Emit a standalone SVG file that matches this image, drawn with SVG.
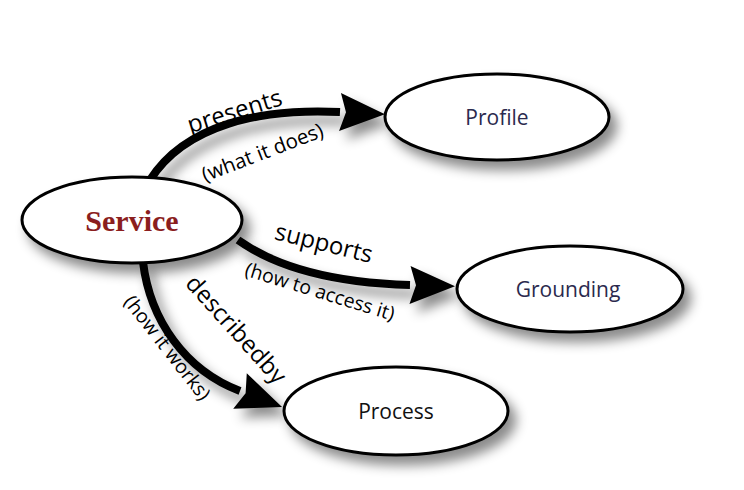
<svg xmlns="http://www.w3.org/2000/svg" width="744" height="490" viewBox="0 0 744 490">
<style>
.node ellipse{fill:#fff;stroke:#000;stroke-width:3}
.nt{font-family:"Open Sans","Liberation Sans",sans-serif;font-size:21px;text-anchor:middle;fill:#2b2a4e}
.svc{font-family:"Liberation Serif",serif;font-weight:bold;font-size:30px;text-anchor:middle;fill:#8b1e1e}
.edge{fill:none;stroke:#000;stroke-width:8;marker-end:url(#ah)}
.lbl{font-family:"Open Sans","Liberation Sans",sans-serif;font-size:24px;text-anchor:middle;fill:#000}
.sub{font-family:"Open Sans","Liberation Sans",sans-serif;font-size:19.5px;text-anchor:middle;fill:#000}
</style>
<defs>
<filter id="sh" x="-20%" y="-30%" width="150%" height="170%">
<feDropShadow dx="7" dy="9" stdDeviation="6" flood-color="#000" flood-opacity="0.45"/>
</filter>
<marker id="ah" markerUnits="userSpaceOnUse" markerWidth="50" markerHeight="40" refX="0" refY="19" orient="auto" overflow="visible">
<path d="M0,0 L45,19 L0,38 L6,19 Z" fill="#000"/>
</marker>
</defs>
<rect width="744" height="490" fill="#fff"/>
<g id="connectors" filter="url(#sh)">
<path class="edge" d="M150,180 C185,125 260,108 340,112"/>
<path class="edge" d="M238,240 C280,270 340,283 410,285"/>
<path class="edge" d="M143,262 C150,320 185,370 240,391"/>
</g>
<g id="service" class="node" filter="url(#sh)"><ellipse cx="132" cy="220" rx="110" ry="43"/></g>
<g id="profile" class="node" filter="url(#sh)"><ellipse cx="497" cy="117" rx="112" ry="43"/></g>
<g id="grounding" class="node" filter="url(#sh)"><ellipse cx="570" cy="289" rx="113" ry="43"/></g>
<g id="process" class="node" filter="url(#sh)"><ellipse cx="396" cy="411" rx="112" ry="44"/></g>
<g id="texts">
<text class="svc" x="132" y="231">Service</text>
<text class="nt" x="497" y="125">Profile</text>
<text class="nt" x="568" y="297">Grounding</text>
<text class="nt" x="396" y="419" style="fill:#111">Process</text>
<text class="lbl" transform="translate(237,119) rotate(-17)">presents</text>
<text class="sub" transform="translate(265,159) rotate(-21)" style="font-size:20.5px">(what it does)</text>
<text class="lbl" transform="translate(322,251) rotate(14)">supports</text>
<text class="sub" transform="translate(318,298) rotate(17)">(how to access it)</text>
<text class="lbl" transform="translate(230,335) rotate(48)">describedby</text>
<text class="sub" transform="translate(162,352) rotate(52)">(how it works)</text>
</g>
</svg>
